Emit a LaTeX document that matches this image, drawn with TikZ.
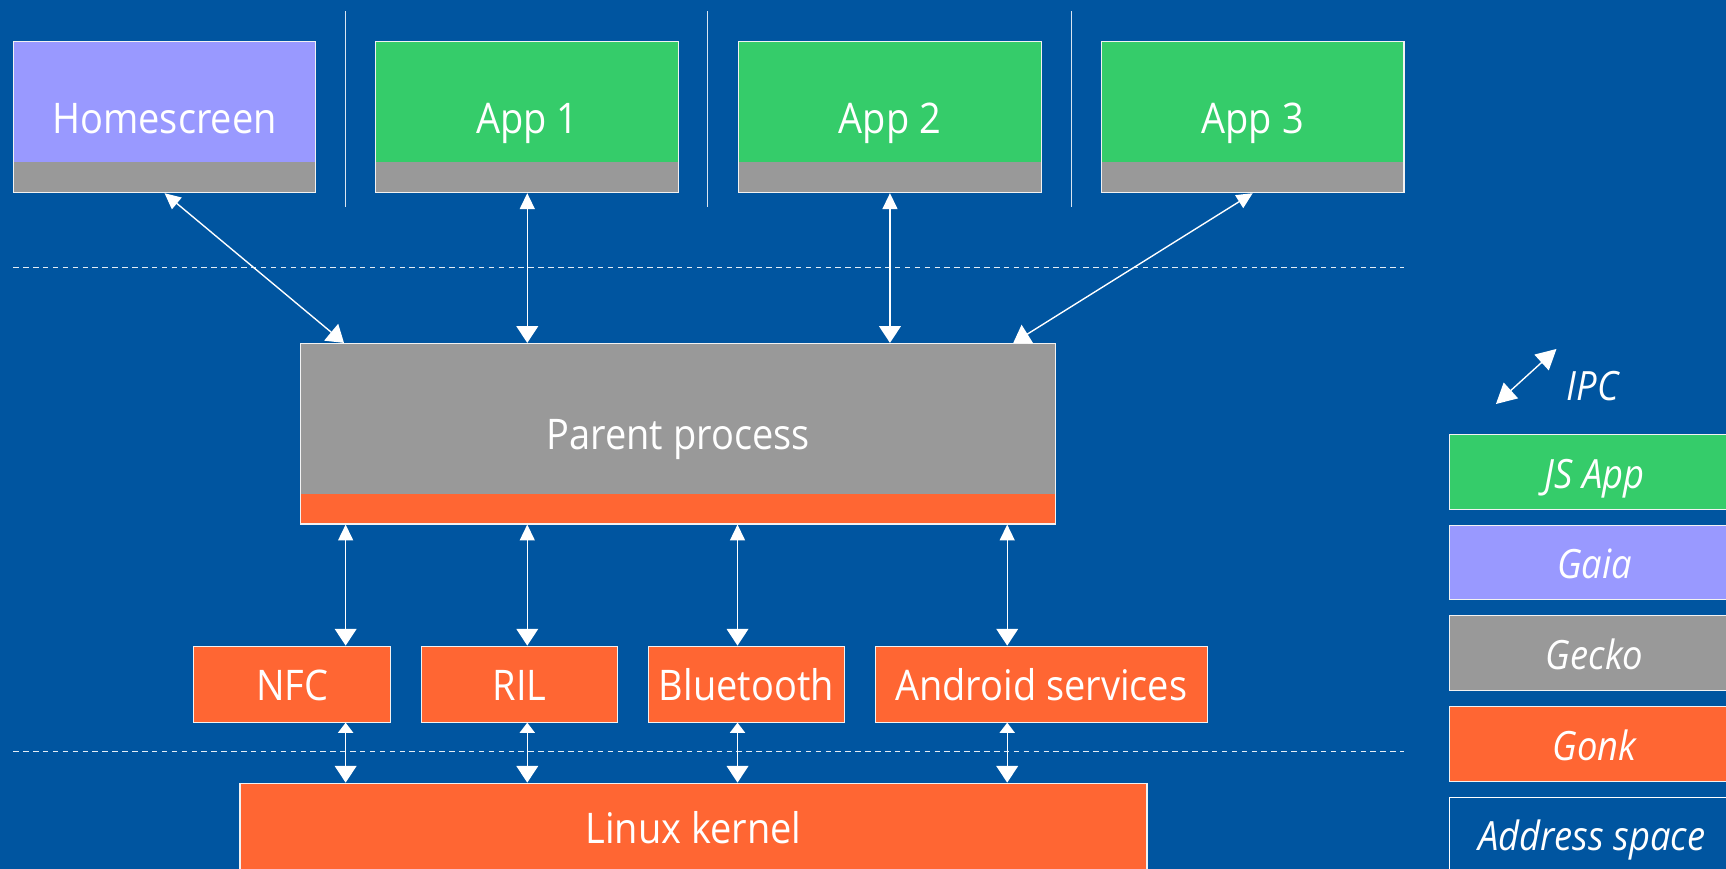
\documentclass[tikz,border=0pt]{standalone}
\usepackage{fontspec}
\setmainfont{Open Sans}[FakeStretch=0.9]
\usetikzlibrary{arrows.meta,calc}
\definecolor{bgblue}{RGB}{0,85,160}
\definecolor{jsgreen}{RGB}{53,204,106}
\definecolor{gaiapurple}{RGB}{153,153,255}
\definecolor{geckogray}{RGB}{153,153,153}
\definecolor{gonkorange}{RGB}{255,102,51}
\tikzset{
  box/.style={draw=white!90!gray, line width=0.6pt, inner sep=0pt, text=white,
    text height=17.4pt, text depth=0pt,
    font=\fontsize{23}{27}\selectfont},
  topbox/.style={box, minimum width=165pt, minimum height=82.2pt,
    path picture={\fill[geckogray] (path picture bounding box.south west) rectangle ([yshift=16.8pt]path picture bounding box.south east);}},
  svcbox/.style={box, fill=gonkorange, minimum height=41.4pt},
  legbox/.style={box, minimum width=157.8pt, minimum height=40.8pt, font=\fontsize{22}{26}\selectfont\itshape},
  plain/.style={text=white, inner sep=0pt},
  ipcarrow/.style={white, line width=0.75pt, {Triangle[width=8.2pt,length=8.7pt]}-{Triangle[width=11.8pt,length=9.1pt]}},
  lowarrow/.style={white, line width=0.75pt, {Triangle[width=8.2pt,length=5.5pt]}-{Triangle[width=11.8pt,length=9.1pt]}},
  legarrow/.style={white, line width=0.75pt, {Triangle[width=11.5pt,length=11pt]}-{Triangle[width=11.5pt,length=11pt]}},
  sep/.style={white!85!bgblue, line width=0.6pt},
  dashline/.style={white!90!bgblue, line width=0.6pt, dash pattern=on 3pt off 2.4pt},
}
\begin{document}
\begin{tikzpicture}[x=0.6pt, y=-0.6pt]
\useasboundingbox (0,0) rectangle (1568,789.4);
\fill[bgblue] (0,0) rectangle (1568,789.4);

% separators
\coordinate (s1t) at (314,10); \coordinate (s1b) at (314,188);
\coordinate (s2t) at (643,10); \coordinate (s2b) at (643,188);
\coordinate (s3t) at (973,10); \coordinate (s3b) at (973,188);
\draw[sep] (s1t) -- (s1b);
\draw[sep] (s2t) -- (s2b);
\draw[sep] (s3t) -- (s3b);

% dashed lines
\coordinate (d1l) at (12,243); \coordinate (d1r) at (1275,243);
\coordinate (d2l) at (12,683); \coordinate (d2r) at (1275,683);
\draw[dashline] (d1l) -- (d1r);
\draw[dashline] (d2l) -- (d2r);

% top boxes
\node[topbox, fill=gaiapurple] (hs) at (149.5,106.5) {Homescreen};
\node[topbox, fill=jsgreen] (app1) at (479,106.5) {App 1};
\node[topbox, fill=jsgreen] (app2) at (808.5,106.5) {App 2};
\node[topbox, fill=jsgreen] (app3) at (1138,106.5) {App 3};

% parent process
\node[box, fill=geckogray, minimum width=411.6pt, minimum height=98.4pt,
  path picture={\fill[gonkorange] (path picture bounding box.south west) rectangle ([yshift=16.2pt]path picture bounding box.south east);}]
  (parent) at (616,394) {Parent process};

% service boxes
\node[svcbox, minimum width=107.4pt] (nfc) at (265.5,621.5) {NFC};
\node[svcbox, minimum width=106.8pt] (ril) at (472,621.5) {RIL};
\node[svcbox, minimum width=106.8pt] (bt) at (678,621.5) {Bluetooth};
\node[svcbox, minimum width=181.2pt] (andr) at (946,621.5) {Android services};

% kernel
\node[box, fill=gonkorange, minimum width=494.4pt, minimum height=90pt, anchor=north] (kernel) at (630,711) {};
\node[plain, font=\fontsize{23}{27}\selectfont, anchor=base] (kerneltxt) at (630,766) {Linux kernel};

% top IPC arrows
\draw[ipcarrow] (hs.south) -- ($(parent.north west)+(40,0)$);
\draw[ipcarrow] (app1.south) -- (app1.south |- parent.north);
\draw[ipcarrow] (app2.south) -- (app2.south |- parent.north);
\draw[ipcarrow] (app3.south) -- ($(parent.north east)+(-39,0)$);

% lower arrows
\coordinate (c1) at (314,0);
\coordinate (c2) at (479,0);
\coordinate (c3) at (670,0);
\coordinate (c4) at (915,0);
\draw[ipcarrow] (parent.south -| c1) -- (nfc.north -| c1);
\draw[ipcarrow] (parent.south -| c2) -- (ril.north -| c2);
\draw[ipcarrow] (parent.south -| c3) -- (bt.north -| c3);
\draw[ipcarrow] (parent.south -| c4) -- (andr.north -| c4);
\draw[lowarrow] (nfc.south -| c1) -- (kernel.north -| c1);
\draw[lowarrow] (ril.south -| c2) -- (kernel.north -| c2);
\draw[lowarrow] (bt.south -| c3) -- (kernel.north -| c3);
\draw[lowarrow] (andr.south -| c4) -- (kernel.north -| c4);

% legend
\coordinate (ipcA) at (1359,367);
\coordinate (ipcB) at (1414,317);
\draw[legarrow] (ipcA) -- (ipcB);
\node[plain, font=\fontsize{22}{26}\selectfont\itshape, anchor=base] (ipc) at (1447,364) {IPC};
\node[legbox, fill=jsgreen] (lgjs) at (1448.5,429) {JS App};
\node[legbox, fill=gaiapurple] (lggaia) at (1448.5,511) {Gaia};
\node[legbox, fill=geckogray] (lggecko) at (1448.5,593.5) {Gecko};
\node[legbox, fill=gonkorange] (lggonk) at (1448.5,676) {Gonk};
\node[legbox, fill=bgblue, draw=white, minimum height=60pt, anchor=north] (lgaddr) at (1448.5,724) {};
\node[plain, font=\fontsize{22}{26}\selectfont\itshape, anchor=base] (lgaddrtxt) at (1446,773) {Address space};
\end{tikzpicture}
\end{document}
